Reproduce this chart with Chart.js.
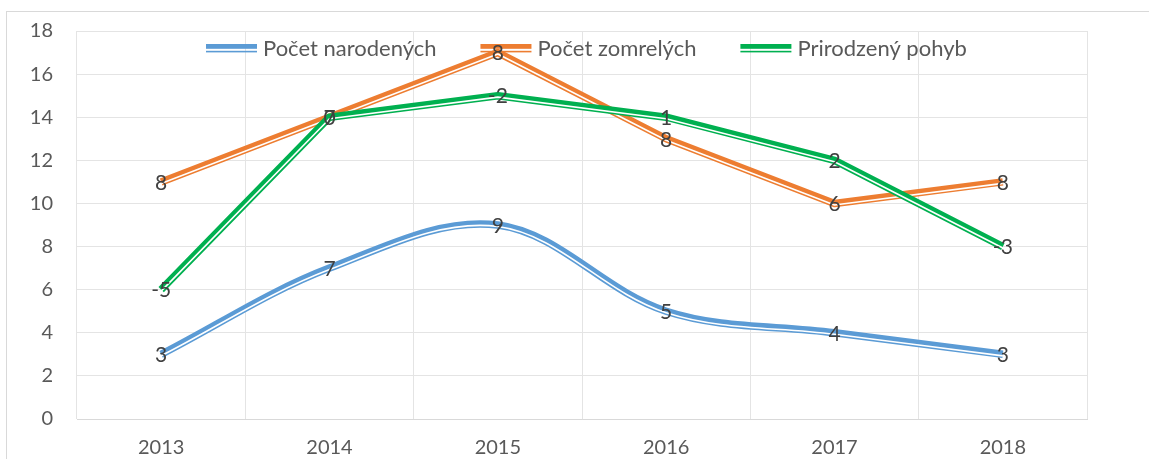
<!DOCTYPE html>
<html>
<head>
<meta charset="utf-8">
<script src="https://cdn.jsdelivr.net/npm/chart.js@4/dist/chart.umd.min.js"></script>
<style>
  html, body { margin: 0; padding: 0; background: #ffffff; }
  #c { display: block; }
</style>
</head>
<body>
<canvas id="c" width="1149" height="459"></canvas>
<script>
// ---- data ----
const categories = ['2013', '2014', '2015', '2016', '2017', '2018'];
const seriesNames = ['Počet narodených', 'Počet zomrelých', 'Prirodzený pohyb'];
const births = [3, 7, 9, 5, 4, 3];
const deaths = [8, 7, 8, 8, 6, 8];
const naturalChange = [-5, 0, -2, 1, 2, -3];
const yMin = 0, yMax = 18, yStep = 2;

// stacked line chart (Excel "stacked line"): each series sits on top of the previous
const level1 = births.slice();
const level2 = births.map((v, i) => v + deaths[i]);
const level3 = level2.map((v, i) => v + naturalChange[i]);

const colors = ['#5B9BD5', '#ED7D31', '#00B050'];
const FONT = 'Lato, "Open Sans", sans-serif';

const framePlugin = {
  id: 'frame',
  beforeDraw(chart) {
    const ctx = chart.ctx;
    ctx.save();
    ctx.fillStyle = '#ffffff';
    ctx.fillRect(0, 0, chart.width, chart.height);
    ctx.strokeStyle = '#d9d9d9';
    ctx.lineWidth = 1;
    ctx.strokeRect(6.5, 11.5, chart.width + 20, chart.height + 20);
    ctx.restore();
  }
};

const doubleLinePlugin = {
  id: 'doubleLine',
  afterDatasetDraw(chart, args) {
    const meta = args.meta;
    const pts = meta.data;
    if (!pts || pts.length < 2) return;
    const ds = chart.data.datasets[args.index];
    const ctx = chart.ctx;
    ctx.save();
    ctx.translate(0, 1.5);
    ctx.strokeStyle = '#ffffff';
    ctx.lineWidth = 1.6;
    ctx.lineJoin = 'round';
    ctx.lineCap = 'butt';
    ctx.beginPath();
    ctx.moveTo(pts[0].x, pts[0].y);
    for (let i = 1; i < pts.length; i++) {
      const p = pts[i - 1], c = pts[i];
      if (ds.tension && ds.tension > 0 && p.cp2x !== undefined) {
        ctx.bezierCurveTo(p.cp2x, p.cp2y, c.cp1x, c.cp1y, c.x, c.y);
      } else {
        ctx.lineTo(c.x, c.y);
      }
    }
    ctx.stroke();
    ctx.restore();
  }
};

const overlayPlugin = {
  id: 'overlay',
  afterDatasetsDraw(chart) {
    const ctx = chart.ctx;
    ctx.save();
    // legend (overlaid on plot area, Excel style)
    ctx.font = '22px ' + FONT;
    ctx.textBaseline = 'middle';
    const sampleW = 51, gapSampleText = 6, gapItems = 44;
    const widths = seriesNames.map(n => ctx.measureText(n).width);
    let x = 206;
    const yMid = 49;
    seriesNames.forEach((n, i) => {
      ctx.fillStyle = colors[i];
      ctx.fillRect(x, 44, sampleW, 4.8);
      ctx.fillRect(x, 50.8, sampleW, 1.6);
      ctx.fillStyle = '#595959';
      ctx.textAlign = 'left';
      ctx.fillText(n, x + sampleW + gapSampleText, yMid);
      x += sampleW + gapSampleText + widths[i] + gapItems;
    });
    // data labels (centered on points)
    ctx.font = '21px ' + FONT;
    ctx.fillStyle = '#404040';
    ctx.textAlign = 'center';
    ctx.textBaseline = 'middle';
    chart.data.datasets.forEach((ds, di) => {
      const meta = chart.getDatasetMeta(di);
      meta.data.forEach((pt, i) => {
        ctx.fillText(String(ds.valueLabels[i]), pt.x, pt.y + 1);
      });
    });
    ctx.restore();
  }
};

new Chart(document.getElementById('c'), {
  type: 'line',
  data: {
    labels: categories,
    datasets: [
      { label: seriesNames[0], data: level1, valueLabels: births, borderColor: colors[0], backgroundColor: colors[0],
        borderWidth: 7.5, tension: 0.35, pointRadius: 0, fill: false, order: 3 },
      { label: seriesNames[1], data: level2, valueLabels: deaths, borderColor: colors[1], backgroundColor: colors[1],
        borderWidth: 7.5, tension: 0, pointRadius: 0, fill: false, order: 2 },
      { label: seriesNames[2], data: level3, valueLabels: naturalChange, borderColor: colors[2], backgroundColor: colors[2],
        borderWidth: 7.5, tension: 0, pointRadius: 0, fill: false, order: 1 }
    ]
  },
  options: {
    responsive: false,
    animation: false,
    devicePixelRatio: 1,
    layout: { padding: { left: 0, right: 62, top: 31, bottom: 0 } },
    plugins: { legend: { display: false }, tooltip: { enabled: false } },
    elements: { line: { borderJoinStyle: 'round', borderCapStyle: 'butt' } },
    scales: {
      x: {
        type: 'category',
        offset: true,
        grid: { offset: true, color: '#e4e4e4', lineWidth: 1, drawTicks: false },
        border: { color: '#d9d9d9' },
        ticks: { color: '#595959', font: { family: FONT, size: 20 }, padding: 17, maxRotation: 0 },
        afterFit(scale) { scale.height = 40; scale.paddingLeft = 0; scale.paddingRight = 0; }
      },
      y: {
        min: yMin, max: yMax,
        grid: { color: '#e4e4e4', lineWidth: 1, drawTicks: false },
        border: { display: false },
        ticks: { stepSize: yStep, color: '#595959', font: { family: FONT, size: 20 }, padding: 24 },
        afterFit(scale) { scale.width = 77; scale.paddingTop = 0; scale.paddingBottom = 0; }
      }
    }
  },
  plugins: [framePlugin, doubleLinePlugin, overlayPlugin]
});
</script>
</body>
</html>
